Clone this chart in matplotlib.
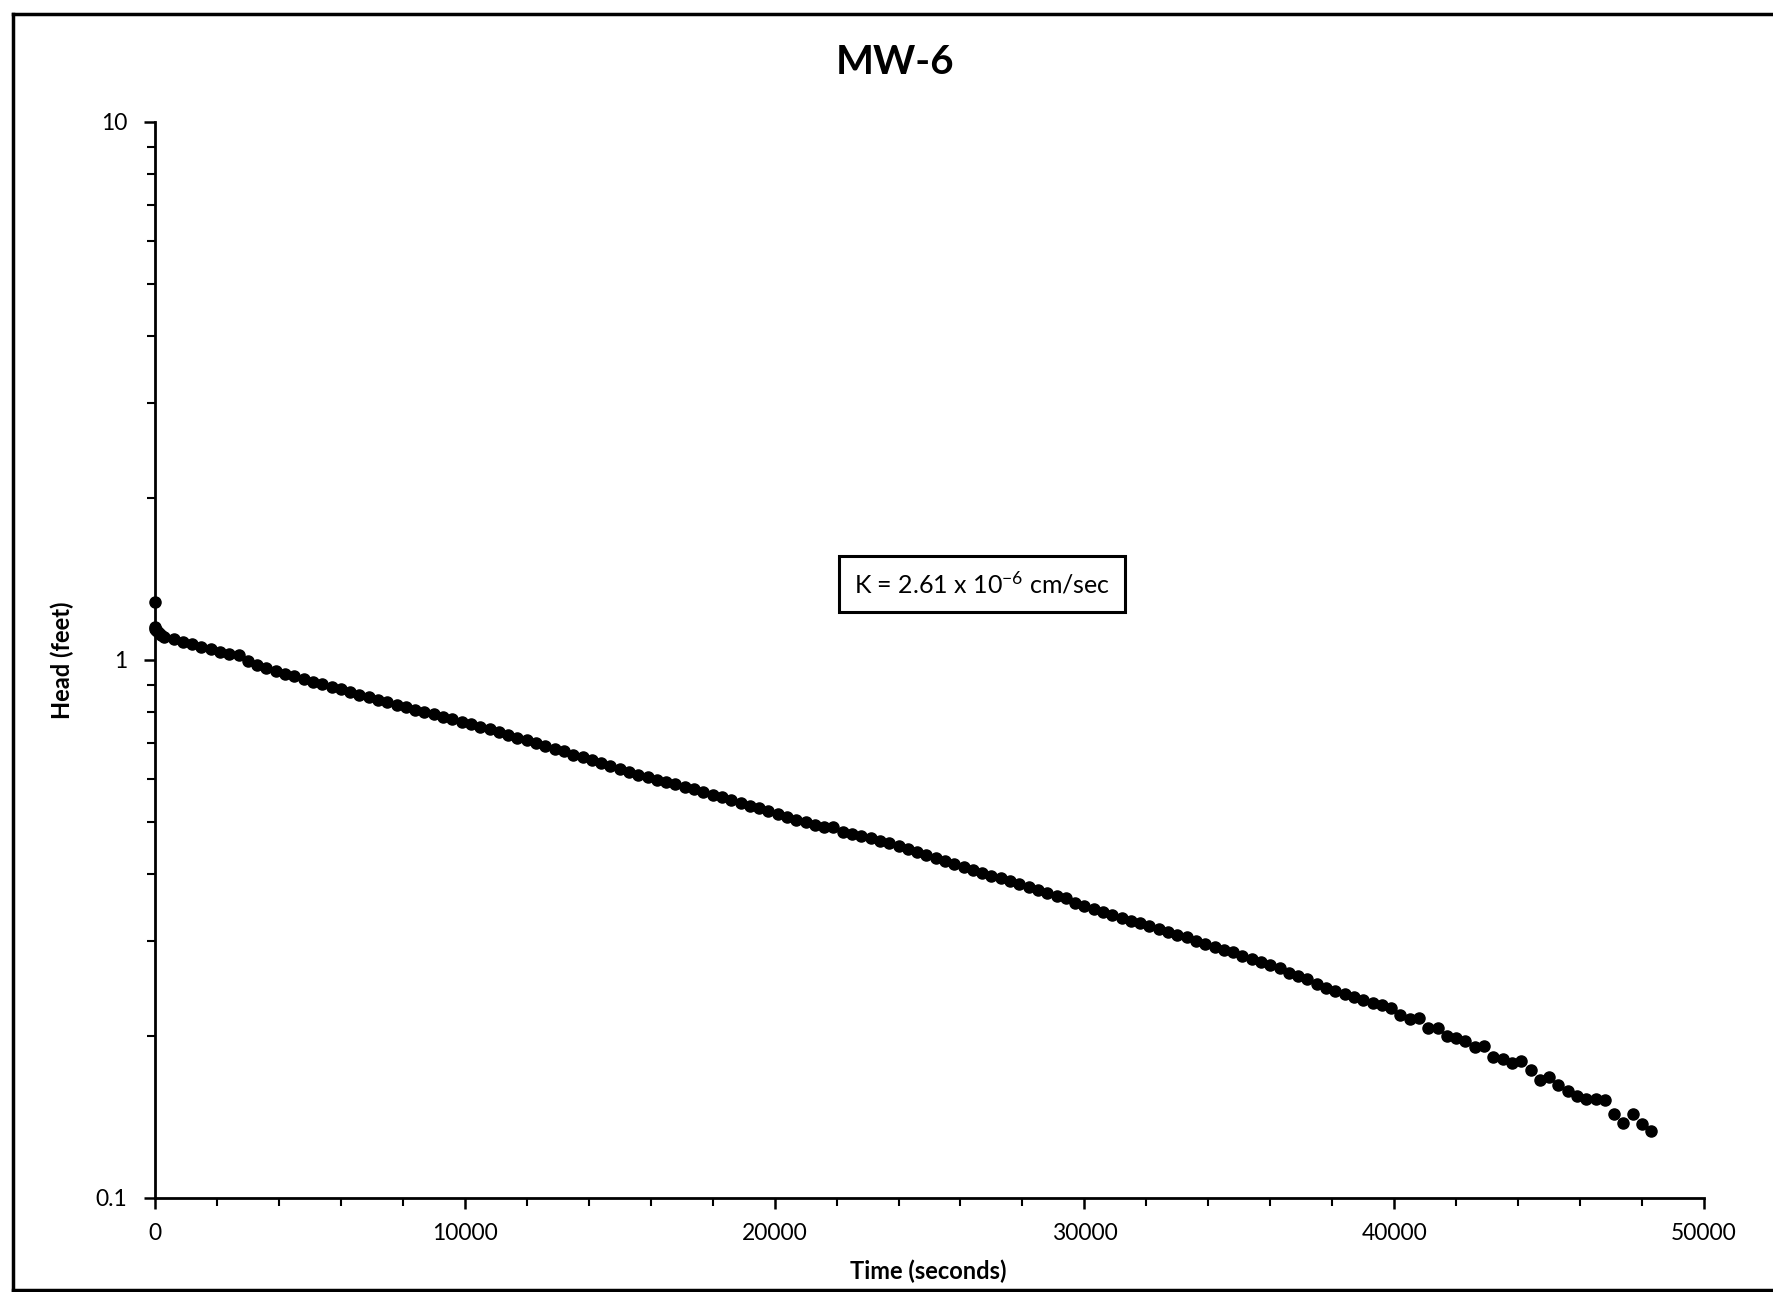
import matplotlib
matplotlib.use("Agg")
import matplotlib.pyplot as plt
from matplotlib.ticker import MultipleLocator, LogLocator, NullFormatter, FixedLocator
from matplotlib.lines import Line2D

plt.rcParams['font.family'] = ['Lato', 'DejaVu Sans']
plt.rcParams['mathtext.default'] = 'regular'

TITLE = "MW-6"
K_TEXT = r"K = 2.61 x 10$^{-6}$ cm/sec"

# slug test recovery, time in seconds, head in feet
TIME_S = [
    0, 0, 15, 30, 60, 120, 200,
    300, 600, 900, 1200, 1500, 1800, 2100, 2400, 2700, 3000,
    3300, 3600, 3900, 4200, 4500, 4800, 5100, 5400, 5700, 6000,
    6300, 6600, 6900, 7200, 7500, 7800, 8100, 8400, 8700, 9000,
    9300, 9600, 9900, 10200, 10500, 10800, 11100, 11400, 11700, 12000,
    12300, 12600, 12900, 13200, 13500, 13800, 14100, 14400, 14700, 15000,
    15300, 15600, 15900, 16200, 16500, 16800, 17100, 17400, 17700, 18000,
    18300, 18600, 18900, 19200, 19500, 19800, 20100, 20400, 20700, 21000,
    21300, 21600, 21900, 22200, 22500, 22800, 23100, 23400, 23700, 24000,
    24300, 24600, 24900, 25200, 25500, 25800, 26100, 26400, 26700, 27000,
    27300, 27600, 27900, 28200, 28500, 28800, 29100, 29400, 29700, 30000,
    30300, 30600, 30900, 31200, 31500, 31800, 32100, 32400, 32700, 33000,
    33300, 33600, 33900, 34200, 34500, 34800, 35100, 35400, 35700, 36000,
    36300, 36600, 36900, 37200, 37500, 37800, 38100, 38400, 38700, 39000,
    39300, 39600, 39900, 40200, 40500, 40800, 41100, 41400, 41700, 42000,
    42300, 42600, 42900, 43200, 43500, 43800, 44100, 44400, 44700, 45000,
    45300, 45600, 45900, 46200, 46500, 46800, 47100, 47400, 47700, 48000,
    48300,
]
HEAD_FT = [
    1.283, 1.150, 1.142, 1.136, 1.130, 1.122, 1.115,
    1.105, 1.093, 1.081, 1.070, 1.058, 1.047, 1.036, 1.025, 1.020, 0.995,
    0.978, 0.966, 0.954, 0.943, 0.932, 0.922, 0.911, 0.901, 0.891, 0.882,
    0.872, 0.862, 0.853, 0.843, 0.834, 0.825, 0.817, 0.808, 0.800, 0.792,
    0.784, 0.776, 0.768, 0.760, 0.752, 0.743, 0.734, 0.726, 0.717, 0.709,
    0.700, 0.692, 0.684, 0.676, 0.667, 0.659, 0.651, 0.642, 0.634, 0.627,
    0.619, 0.611, 0.605, 0.599, 0.593, 0.587, 0.581, 0.575, 0.569, 0.562,
    0.556, 0.549, 0.543, 0.536, 0.530, 0.524, 0.517, 0.511, 0.505, 0.499,
    0.493, 0.489, 0.489, 0.479, 0.475, 0.470, 0.466, 0.461, 0.457, 0.451,
    0.445, 0.439, 0.434, 0.428, 0.423, 0.418, 0.412, 0.407, 0.402, 0.397,
    0.393, 0.388, 0.383, 0.379, 0.374, 0.369, 0.364, 0.361, 0.354, 0.349,
    0.345, 0.340, 0.336, 0.332, 0.327, 0.325, 0.320, 0.316, 0.312, 0.308,
    0.305, 0.300, 0.297, 0.293, 0.289, 0.286, 0.282, 0.278, 0.275, 0.271,
    0.267, 0.262, 0.258, 0.255, 0.250, 0.246, 0.242, 0.239, 0.236, 0.233,
    0.230, 0.228, 0.225, 0.219, 0.215, 0.216, 0.207, 0.207, 0.200, 0.198,
    0.196, 0.191, 0.192, 0.183, 0.181, 0.178, 0.180, 0.173, 0.166, 0.168,
    0.162, 0.158, 0.155, 0.153, 0.153, 0.152, 0.143, 0.138, 0.143, 0.137,
    0.133,
]
Y_TICKS = [0.1, 1, 10]
Y_TICK_LABELS = ["0.1", "1", "10"]

fig = plt.figure(figsize=(17.73, 12.92), dpi=100)
ax = fig.add_axes([0.0874, 0.0728, 0.8737, 0.8328])

ax.plot(TIME_S, HEAD_FT, 'o', color='black', ms=8, mec='black', clip_on=False, zorder=3)

ax.set_yscale('log')
ax.set_ylim(0.1, 10)
ax.set_xlim(0, 50000)
ax.yaxis.set_major_locator(FixedLocator(Y_TICKS))
ax.set_yticklabels(Y_TICK_LABELS)
ax.yaxis.set_minor_locator(LogLocator(base=10, subs=range(2, 10)))
ax.yaxis.set_minor_formatter(NullFormatter())
ax.xaxis.set_major_locator(MultipleLocator(10000))
ax.xaxis.set_minor_locator(MultipleLocator(2000))

for s in ['top', 'right']:
    ax.spines[s].set_visible(False)
for s in ['left', 'bottom']:
    ax.spines[s].set_linewidth(2)
ax.tick_params(which='major', direction='out', length=8, width=1.8, labelsize=16.5, pad=12)
ax.tick_params(which='minor', direction='out', length=6, width=1.5)
ax.tick_params(axis='x', which='major', pad=10)

fig.text(0.505, 0.952, TITLE, ha='center', va='center', fontsize=29, weight='bold')
fig.text(0.5235, 0.0163, "Time (seconds)", ha='center', va='center', fontsize=17, weight='bold')
fig.text(0.035, 0.489, "Head (feet)", ha='center', va='center', fontsize=17, weight='bold',
         rotation=90)

ax.text(26700, 1.385, K_TEXT, ha='center', va='center', fontsize=18,
        bbox=dict(boxstyle='square,pad=0.6', fc='white', ec='black', lw=2.2))

# scanned page frame: left, top and bottom edges only
x0, y0, y1 = 0.0073, 0.0015, 0.9892
for xs, ys in [([x0, x0], [y0, y1]), ([x0, 1.0], [y1, y1]), ([x0, 1.0], [y0, y0])]:
    fig.add_artist(Line2D(xs, ys, transform=fig.transFigure, color='black', lw=2.5))

fig.savefig("out.png", dpi=100, facecolor='white')
